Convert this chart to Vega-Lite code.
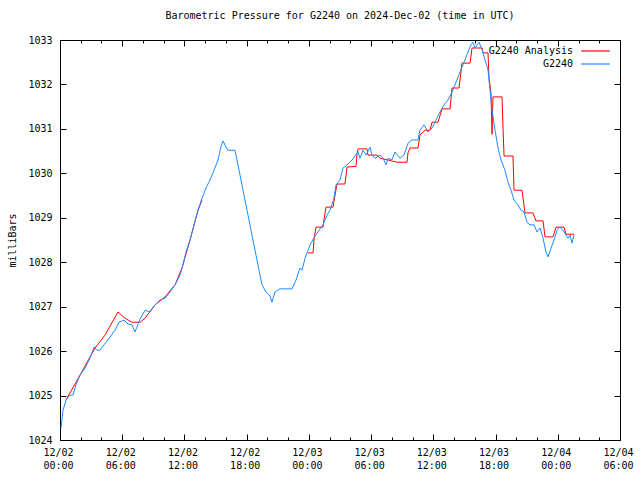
{
"$schema": "https://vega.github.io/schema/vega-lite/v6.json",
"width": 560, "height": 400,
"autosize": {"type": "none"},
"padding": {"left": 60, "top": 40, "right": 20, "bottom": 40},
"title": {"text": "Barometric Pressure for G2240 on 2024-Dec-02 (time in UTC)", "font": "DejaVu Sans Mono", "fontSize": 10, "fontWeight": "normal", "offset": 14, "anchor": "middle", "color": "black"},
"config": {
  "view": {"stroke": "black", "strokeWidth": 1},
  "font": "DejaVu Sans Mono",
  "axis": {"domain": false, "grid": false, "labelFlush": false, "labelFont": "DejaVu Sans Mono", "labelFontSize": 10, "labelColor": "black", "tickColor": "black", "tickWidth": 1, "titleFont": "DejaVu Sans Mono", "titleFontSize": 10, "titleFontWeight": "normal", "titleColor": "black"},
  "legend": {"labelFont": "DejaVu Sans Mono", "labelFontSize": 10, "labelColor": "black"}
},
"datasets": {
"d": [
{"series":"G2240 Analysis","seg":"a1","hour":0.58,"mb":1024.90},
{"series":"G2240 Analysis","seg":"a1","hour":1.93,"mb":1025.46},
{"series":"G2240 Analysis","seg":"a1","hour":3.38,"mb":1026.07},
{"series":"G2240 Analysis","seg":"a1","hour":4.34,"mb":1026.36},
{"series":"G2240 Analysis","seg":"a1","hour":5.59,"mb":1026.88},
{"series":"G2240 Analysis","seg":"a1","hour":6.27,"mb":1026.74},
{"series":"G2240 Analysis","seg":"a1","hour":6.94,"mb":1026.65},
{"series":"G2240 Analysis","seg":"a1","hour":7.71,"mb":1026.65},
{"series":"G2240 Analysis","seg":"a1","hour":8.20,"mb":1026.74},
{"series":"G2240 Analysis","seg":"a1","hour":9.16,"mb":1027.04},
{"series":"G2240 Analysis","seg":"a1","hour":10.13,"mb":1027.22},
{"series":"G2240 Analysis","seg":"a1","hour":11.09,"mb":1027.49},
{"series":"G2240 Analysis","seg":"a1","hour":11.76,"mb":1027.87},
{"series":"G2240 Analysis","seg":"a1","hour":12.54,"mb":1028.50},
{"series":"G2240 Analysis","seg":"a1","hour":13.31,"mb":1029.17},
{"series":"G2240 Analysis","seg":"a1","hour":13.69,"mb":1029.40},
{"series":"G2240 Analysis","seg":"a2","hour":23.91,"mb":1028.21},
{"series":"G2240 Analysis","seg":"a2","hour":24.40,"mb":1028.21},
{"series":"G2240 Analysis","seg":"a2","hour":24.49,"mb":1028.50},
{"series":"G2240 Analysis","seg":"a2","hour":24.69,"mb":1028.79},
{"series":"G2240 Analysis","seg":"a2","hour":25.36,"mb":1028.79},
{"series":"G2240 Analysis","seg":"a2","hour":25.46,"mb":1028.95},
{"series":"G2240 Analysis","seg":"a2","hour":25.65,"mb":1029.24},
{"series":"G2240 Analysis","seg":"a2","hour":26.33,"mb":1029.24},
{"series":"G2240 Analysis","seg":"a2","hour":26.52,"mb":1029.51},
{"series":"G2240 Analysis","seg":"a2","hour":26.71,"mb":1029.76},
{"series":"G2240 Analysis","seg":"a2","hour":27.48,"mb":1029.76},
{"series":"G2240 Analysis","seg":"a2","hour":27.68,"mb":1030.14},
{"series":"G2240 Analysis","seg":"a2","hour":28.54,"mb":1030.16},
{"series":"G2240 Analysis","seg":"a2","hour":28.64,"mb":1030.43},
{"series":"G2240 Analysis","seg":"a2","hour":28.74,"mb":1030.55},
{"series":"G2240 Analysis","seg":"a2","hour":29.60,"mb":1030.55},
{"series":"G2240 Analysis","seg":"a2","hour":29.70,"mb":1030.41},
{"series":"G2240 Analysis","seg":"a2","hour":30.57,"mb":1030.41},
{"series":"G2240 Analysis","seg":"a2","hour":30.86,"mb":1030.34},
{"series":"G2240 Analysis","seg":"a2","hour":31.63,"mb":1030.30},
{"series":"G2240 Analysis","seg":"a2","hour":32.50,"mb":1030.25},
{"series":"G2240 Analysis","seg":"a2","hour":33.46,"mb":1030.25},
{"series":"G2240 Analysis","seg":"a2","hour":33.56,"mb":1030.46},
{"series":"G2240 Analysis","seg":"a2","hour":33.75,"mb":1030.57},
{"series":"G2240 Analysis","seg":"a2","hour":34.52,"mb":1030.57},
{"series":"G2240 Analysis","seg":"a2","hour":34.71,"mb":1030.86},
{"series":"G2240 Analysis","seg":"a2","hour":35.20,"mb":1030.97},
{"series":"G2240 Analysis","seg":"a2","hour":35.68,"mb":1030.97},
{"series":"G2240 Analysis","seg":"a2","hour":35.87,"mb":1031.15},
{"series":"G2240 Analysis","seg":"a2","hour":36.45,"mb":1031.15},
{"series":"G2240 Analysis","seg":"a2","hour":36.84,"mb":1031.45},
{"series":"G2240 Analysis","seg":"a2","hour":37.61,"mb":1031.45},
{"series":"G2240 Analysis","seg":"a2","hour":37.80,"mb":1031.92},
{"series":"G2240 Analysis","seg":"a2","hour":38.48,"mb":1031.92},
{"series":"G2240 Analysis","seg":"a2","hour":38.76,"mb":1032.48},
{"series":"G2240 Analysis","seg":"a2","hour":39.54,"mb":1032.48},
{"series":"G2240 Analysis","seg":"a2","hour":39.73,"mb":1032.82},
{"series":"G2240 Analysis","seg":"a2","hour":40.70,"mb":1032.82},
{"series":"G2240 Analysis","seg":"a2","hour":40.80,"mb":1032.71},
{"series":"G2240 Analysis","seg":"a2","hour":41.27,"mb":1032.71},
{"series":"G2240 Analysis","seg":"a2","hour":41.37,"mb":1032.14},
{"series":"G2240 Analysis","seg":"a2","hour":41.56,"mb":1031.81},
{"series":"G2240 Analysis","seg":"a2","hour":41.66,"mb":1030.88},
{"series":"G2240 Analysis","seg":"a2","hour":41.75,"mb":1031.72},
{"series":"G2240 Analysis","seg":"a2","hour":42.62,"mb":1031.72},
{"series":"G2240 Analysis","seg":"a2","hour":42.72,"mb":1031.02},
{"series":"G2240 Analysis","seg":"a2","hour":42.82,"mb":1030.39},
{"series":"G2240 Analysis","seg":"a2","hour":43.68,"mb":1030.39},
{"series":"G2240 Analysis","seg":"a2","hour":43.78,"mb":1029.62},
{"series":"G2240 Analysis","seg":"a2","hour":44.55,"mb":1029.62},
{"series":"G2240 Analysis","seg":"a2","hour":44.84,"mb":1029.11},
{"series":"G2240 Analysis","seg":"a2","hour":45.61,"mb":1029.11},
{"series":"G2240 Analysis","seg":"a2","hour":45.90,"mb":1028.93},
{"series":"G2240 Analysis","seg":"a2","hour":46.58,"mb":1028.93},
{"series":"G2240 Analysis","seg":"a2","hour":46.77,"mb":1028.57},
{"series":"G2240 Analysis","seg":"a2","hour":47.54,"mb":1028.57},
{"series":"G2240 Analysis","seg":"a2","hour":47.83,"mb":1028.79},
{"series":"G2240 Analysis","seg":"a2","hour":48.60,"mb":1028.79},
{"series":"G2240 Analysis","seg":"a2","hour":48.79,"mb":1028.63},
{"series":"G2240 Analysis","seg":"a2","hour":49.56,"mb":1028.63},
{"series":"G2240","seg":"b","hour":0.10,"mb":1024.27},
{"series":"G2240","seg":"b","hour":0.29,"mb":1024.67},
{"series":"G2240","seg":"b","hour":0.58,"mb":1024.90},
{"series":"G2240","seg":"b","hour":0.96,"mb":1025.01},
{"series":"G2240","seg":"b","hour":1.25,"mb":1025.01},
{"series":"G2240","seg":"b","hour":1.54,"mb":1025.24},
{"series":"G2240","seg":"b","hour":1.93,"mb":1025.46},
{"series":"G2240","seg":"b","hour":2.41,"mb":1025.62},
{"series":"G2240","seg":"b","hour":2.89,"mb":1025.84},
{"series":"G2240","seg":"b","hour":3.28,"mb":1026.09},
{"series":"G2240","seg":"b","hour":3.57,"mb":1026.02},
{"series":"G2240","seg":"b","hour":3.86,"mb":1026.02},
{"series":"G2240","seg":"b","hour":4.24,"mb":1026.14},
{"series":"G2240","seg":"b","hour":4.73,"mb":1026.29},
{"series":"G2240","seg":"b","hour":5.30,"mb":1026.47},
{"series":"G2240","seg":"b","hour":5.69,"mb":1026.65},
{"series":"G2240","seg":"b","hour":6.17,"mb":1026.70},
{"series":"G2240","seg":"b","hour":6.56,"mb":1026.61},
{"series":"G2240","seg":"b","hour":6.94,"mb":1026.59},
{"series":"G2240","seg":"b","hour":7.23,"mb":1026.43},
{"series":"G2240","seg":"b","hour":7.42,"mb":1026.54},
{"series":"G2240","seg":"b","hour":7.71,"mb":1026.72},
{"series":"G2240","seg":"b","hour":8.20,"mb":1026.92},
{"series":"G2240","seg":"b","hour":8.68,"mb":1026.88},
{"series":"G2240","seg":"b","hour":9.16,"mb":1027.04},
{"series":"G2240","seg":"b","hour":9.64,"mb":1027.15},
{"series":"G2240","seg":"b","hour":10.13,"mb":1027.19},
{"series":"G2240","seg":"b","hour":10.61,"mb":1027.33},
{"series":"G2240","seg":"b","hour":11.09,"mb":1027.49},
{"series":"G2240","seg":"b","hour":11.57,"mb":1027.71},
{"series":"G2240","seg":"b","hour":11.86,"mb":1027.94},
{"series":"G2240","seg":"b","hour":12.15,"mb":1028.23},
{"series":"G2240","seg":"b","hour":12.54,"mb":1028.50},
{"series":"G2240","seg":"b","hour":12.92,"mb":1028.84},
{"series":"G2240","seg":"b","hour":13.31,"mb":1029.17},
{"series":"G2240","seg":"b","hour":13.69,"mb":1029.44},
{"series":"G2240","seg":"b","hour":14.08,"mb":1029.67},
{"series":"G2240","seg":"b","hour":14.46,"mb":1029.85},
{"series":"G2240","seg":"b","hour":14.85,"mb":1030.07},
{"series":"G2240","seg":"b","hour":15.24,"mb":1030.30},
{"series":"G2240","seg":"b","hour":15.53,"mb":1030.61},
{"series":"G2240","seg":"b","hour":15.72,"mb":1030.73},
{"series":"G2240","seg":"b","hour":16.01,"mb":1030.59},
{"series":"G2240","seg":"b","hour":16.20,"mb":1030.52},
{"series":"G2240","seg":"b","hour":16.88,"mb":1030.52},
{"series":"G2240","seg":"b","hour":17.07,"mb":1030.30},
{"series":"G2240","seg":"b","hour":17.36,"mb":1029.96},
{"series":"G2240","seg":"b","hour":17.74,"mb":1029.51},
{"series":"G2240","seg":"b","hour":18.13,"mb":1029.06},
{"series":"G2240","seg":"b","hour":18.51,"mb":1028.61},
{"series":"G2240","seg":"b","hour":18.90,"mb":1028.16},
{"series":"G2240","seg":"b","hour":19.19,"mb":1027.82},
{"series":"G2240","seg":"b","hour":19.48,"mb":1027.49},
{"series":"G2240","seg":"b","hour":19.86,"mb":1027.33},
{"series":"G2240","seg":"b","hour":20.25,"mb":1027.24},
{"series":"G2240","seg":"b","hour":20.44,"mb":1027.10},
{"series":"G2240","seg":"b","hour":20.73,"mb":1027.33},
{"series":"G2240","seg":"b","hour":21.21,"mb":1027.40},
{"series":"G2240","seg":"b","hour":22.37,"mb":1027.40},
{"series":"G2240","seg":"b","hour":22.76,"mb":1027.60},
{"series":"G2240","seg":"b","hour":23.14,"mb":1027.87},
{"series":"G2240","seg":"b","hour":23.34,"mb":1027.82},
{"series":"G2240","seg":"b","hour":23.63,"mb":1028.09},
{"series":"G2240","seg":"b","hour":23.91,"mb":1028.27},
{"series":"G2240","seg":"b","hour":24.20,"mb":1028.43},
{"series":"G2240","seg":"b","hour":24.59,"mb":1028.59},
{"series":"G2240","seg":"b","hour":24.98,"mb":1028.72},
{"series":"G2240","seg":"b","hour":25.36,"mb":1028.84},
{"series":"G2240","seg":"b","hour":25.75,"mb":1029.06},
{"series":"G2240","seg":"b","hour":26.04,"mb":1029.17},
{"series":"G2240","seg":"b","hour":26.42,"mb":1029.44},
{"series":"G2240","seg":"b","hour":26.61,"mb":1029.74},
{"series":"G2240","seg":"b","hour":27.00,"mb":1029.85},
{"series":"G2240","seg":"b","hour":27.29,"mb":1030.12},
{"series":"G2240","seg":"b","hour":27.68,"mb":1030.19},
{"series":"G2240","seg":"b","hour":28.16,"mb":1030.30},
{"series":"G2240","seg":"b","hour":28.45,"mb":1030.39},
{"series":"G2240","seg":"b","hour":28.74,"mb":1030.48},
{"series":"G2240","seg":"b","hour":28.93,"mb":1030.34},
{"series":"G2240","seg":"b","hour":29.22,"mb":1030.52},
{"series":"G2240","seg":"b","hour":29.51,"mb":1030.41},
{"series":"G2240","seg":"b","hour":29.89,"mb":1030.59},
{"series":"G2240","seg":"b","hour":30.09,"mb":1030.41},
{"series":"G2240","seg":"b","hour":30.38,"mb":1030.34},
{"series":"G2240","seg":"b","hour":30.86,"mb":1030.41},
{"series":"G2240","seg":"b","hour":31.15,"mb":1030.34},
{"series":"G2240","seg":"b","hour":31.44,"mb":1030.19},
{"series":"G2240","seg":"b","hour":31.63,"mb":1030.34},
{"series":"G2240","seg":"b","hour":32.01,"mb":1030.30},
{"series":"G2240","seg":"b","hour":32.30,"mb":1030.48},
{"series":"G2240","seg":"b","hour":32.79,"mb":1030.34},
{"series":"G2240","seg":"b","hour":33.17,"mb":1030.41},
{"series":"G2240","seg":"b","hour":33.56,"mb":1030.68},
{"series":"G2240","seg":"b","hour":33.94,"mb":1030.75},
{"series":"G2240","seg":"b","hour":34.52,"mb":1030.75},
{"series":"G2240","seg":"b","hour":34.71,"mb":1030.97},
{"series":"G2240","seg":"b","hour":35.10,"mb":1031.09},
{"series":"G2240","seg":"b","hour":35.49,"mb":1030.93},
{"series":"G2240","seg":"b","hour":35.87,"mb":1031.02},
{"series":"G2240","seg":"b","hour":36.26,"mb":1031.20},
{"series":"G2240","seg":"b","hour":36.64,"mb":1031.38},
{"series":"G2240","seg":"b","hour":37.03,"mb":1031.54},
{"series":"G2240","seg":"b","hour":37.41,"mb":1031.65},
{"series":"G2240","seg":"b","hour":37.80,"mb":1031.83},
{"series":"G2240","seg":"b","hour":38.19,"mb":1032.05},
{"series":"G2240","seg":"b","hour":38.57,"mb":1032.28},
{"series":"G2240","seg":"b","hour":38.96,"mb":1032.50},
{"series":"G2240","seg":"b","hour":39.34,"mb":1032.73},
{"series":"G2240","seg":"b","hour":39.63,"mb":1032.89},
{"series":"G2240","seg":"b","hour":39.83,"mb":1032.95},
{"series":"G2240","seg":"b","hour":40.02,"mb":1032.82},
{"series":"G2240","seg":"b","hour":40.21,"mb":1032.89},
{"series":"G2240","seg":"b","hour":40.41,"mb":1032.95},
{"series":"G2240","seg":"b","hour":40.70,"mb":1032.78},
{"series":"G2240","seg":"b","hour":40.99,"mb":1032.55},
{"series":"G2240","seg":"b","hour":41.27,"mb":1032.33},
{"series":"G2240","seg":"b","hour":41.47,"mb":1031.87},
{"series":"G2240","seg":"b","hour":41.66,"mb":1031.42},
{"series":"G2240","seg":"b","hour":41.95,"mb":1030.97},
{"series":"G2240","seg":"b","hour":42.24,"mb":1030.57},
{"series":"G2240","seg":"b","hour":42.53,"mb":1030.30},
{"series":"G2240","seg":"b","hour":42.91,"mb":1030.07},
{"series":"G2240","seg":"b","hour":43.20,"mb":1029.80},
{"series":"G2240","seg":"b","hour":43.49,"mb":1029.62},
{"series":"G2240","seg":"b","hour":43.78,"mb":1029.40},
{"series":"G2240","seg":"b","hour":44.16,"mb":1029.29},
{"series":"G2240","seg":"b","hour":44.45,"mb":1029.17},
{"series":"G2240","seg":"b","hour":44.74,"mb":1029.13},
{"series":"G2240","seg":"b","hour":45.03,"mb":1028.90},
{"series":"G2240","seg":"b","hour":45.32,"mb":1028.84},
{"series":"G2240","seg":"b","hour":45.71,"mb":1028.84},
{"series":"G2240","seg":"b","hour":46.00,"mb":1028.68},
{"series":"G2240","seg":"b","hour":46.29,"mb":1028.77},
{"series":"G2240","seg":"b","hour":46.58,"mb":1028.54},
{"series":"G2240","seg":"b","hour":46.86,"mb":1028.23},
{"series":"G2240","seg":"b","hour":47.06,"mb":1028.12},
{"series":"G2240","seg":"b","hour":47.35,"mb":1028.32},
{"series":"G2240","seg":"b","hour":47.64,"mb":1028.50},
{"series":"G2240","seg":"b","hour":47.93,"mb":1028.72},
{"series":"G2240","seg":"b","hour":48.21,"mb":1028.79},
{"series":"G2240","seg":"b","hour":48.50,"mb":1028.72},
{"series":"G2240","seg":"b","hour":48.79,"mb":1028.61},
{"series":"G2240","seg":"b","hour":48.99,"mb":1028.54},
{"series":"G2240","seg":"b","hour":49.18,"mb":1028.61},
{"series":"G2240","seg":"b","hour":49.37,"mb":1028.43},
{"series":"G2240","seg":"b","hour":49.56,"mb":1028.61}
]
},
"data": {"name": "d"},
"layer": [
  {
    "mark": {"type": "line", "strokeWidth": 1, "interpolate": "linear"},
    "encoding": {
      "x": {"field": "hour", "type": "quantitative",
        "scale": {"domain": [0, 54], "nice": false, "zero": false},
        "axis": {"orient": "bottom", "title": null,
          "values": [0,2,4,6,8,10,12,14,16,18,20,22,24,26,28,30,32,34,36,38,40,42,44,46,48,50,52,54],
          "tickSize": {"expr": "datum.value % 6 == 0 ? -6 : -3"},
          "labelPadding": 13, "labelLineHeight": 13, "labelOffset": -2,
          "labelExpr": "datum.value % 6 == 0 ? ['12/0' + (2 + floor(datum.value / 24)), (datum.value % 24 < 10 ? '0' : '') + (datum.value % 24) + ':00'] : ''"}},
      "y": {"field": "mb", "type": "quantitative",
        "scale": {"domain": [1024, 1033], "nice": false, "zero": false},
        "axis": {"orient": "left", "title": "milliBars", "values": [1024,1025,1026,1027,1028,1029,1030,1031,1032,1033],
          "tickSize": -6, "labelPadding": 14, "titlePadding": 10, "format": "d"}},
      "color": {"field": "series", "type": "nominal",
        "scale": {"domain": ["G2240 Analysis", "G2240"], "range": ["#ff0000", "#1a8cff"]},
        "legend": {"title": null, "orient": "none", "legendX": 528, "legendY": 3.5, "symbolType": "M-2.2,0H2.2", "symbolSize": 169, "symbolStrokeWidth": 1.2,
          "labelAlign": "right", "labelOffset": -30, "rowPadding": 0, "padding": 0}},
      "detail": {"field": "seg"}
    }
  },
  {
    "mark": {"type": "line", "opacity": 0},
    "encoding": {
      "x": {"field": "hour", "type": "quantitative",
        "axis": {"orient": "top", "title": null, "labels": false,
          "values": [0,2,4,6,8,10,12,14,16,18,20,22,24,26,28,30,32,34,36,38,40,42,44,46,48,50,52,54],
          "tickSize": {"expr": "datum.value % 6 == 0 ? -6 : -3"}}},
      "y": {"field": "mb", "type": "quantitative",
        "axis": {"orient": "right", "title": null, "labels": false,
          "values": [1024,1025,1026,1027,1028,1029,1030,1031,1032,1033], "tickSize": -6}}
    }
  }
],
"resolve": {"axis": {"x": "independent", "y": "independent"}}
}
